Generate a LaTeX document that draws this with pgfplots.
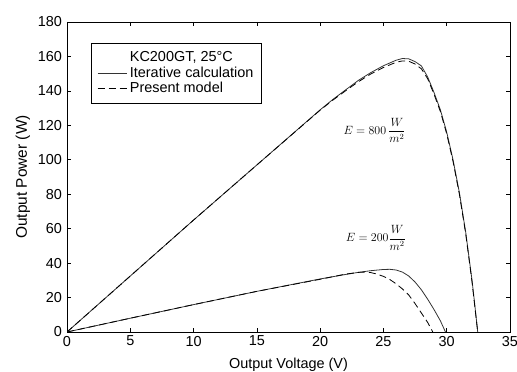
\documentclass[border=0pt]{standalone}
\usepackage{pgfplots}
\pgfplotsset{compat=1.18}
\usepackage{fontspec}
\setmainfont{Liberation Sans}
\begin{document}
\fontsize{14.5}{16.5}\selectfont
\begin{tikzpicture}
\useasboundingbox (-67bp,-40bp) rectangle (450bp,332bp);
\begin{axis}[
  scale only axis,
  width=443bp, height=310bp,
  xmin=0, xmax=35, ymin=0, ymax=180,
  xtick={0,5,...,35}, ytick={0,20,...,180},
  tick align=inside, tick pos=both,
  major tick length=4bp,
  /pgf/number format/assume math mode=true,
  tick label style={font=\fontsize{14.5}{16}\selectfont},
  xticklabel style={yshift=1bp},
  xlabel={Output Voltage (V)},
  ylabel={Output Power (W)},
  xlabel style={font=\fontsize{14.5}{16}\selectfont, yshift=-2bp},
  ylabel style={font=\fontsize{15.5}{17}\selectfont, yshift=-2bp},
  axis line style={line width=0.8pt},
  every tick/.style={line width=0.7pt, black},
  legend style={at={(0.054,0.932)}, anchor=north west, draw=black, line width=0.8pt,
    font=\fontsize{14.5}{16}\selectfont, row sep=-1bp, inner xsep=6bp, inner ysep=6bp},
  legend cell align=left,
  legend image code/.code={\draw[#1] (0cm,0cm) -- (1.05cm,0cm);},
]
\addlegendimage{white}
\addlegendentry{KC200GT, 25\textdegree C}
% 800 W/m2 iterative
\addplot[black!80, line width=0.8pt] coordinates {
(0,0) (5,32.5) (10,65) (15,97) (20,129) (21,135) (22,140.5) (23,146) (24,150.6) (25,154.6) (26,157.8) (26.5,158.8) (27,158.6) (27.5,157) (28,154.5) (28.5,148) (29,139) (29.5,129) (30,116) (30.5,100) (31,81) (31.5,58) (32,30) (32.2,17) (32.45,0)};
\addlegendentry{Iterative calculation}
% 800 dashed
\addplot[black, line width=0.8pt, dash pattern=on 7bp off 4bp] coordinates {
(0,0) (5,32.5) (10,65) (15,97) (20,128.8) (21,134.6) (22,140) (23,145.2) (24,149.8) (25,153.6) (26,156.6) (26.5,157.4) (27,157.2) (27.5,155.6) (28,152.8) (28.5,147) (29,138) (29.5,128) (30,115) (30.5,99) (31,80) (31.5,57) (32,29) (32.2,16) (32.45,0)};
\addlegendentry{Present model}
% 200 solid
\addplot[black!80, line width=0.8pt] coordinates {
(0,0) (5,8) (10,15.9) (15,23.6) (20,30.8) (22,33.4) (23,34.6) (24,35.6) (25,36.3) (25.5,36.4) (26,36) (26.5,34.8) (27,32.5) (27.5,29) (28,24.5) (28.5,19) (29,13) (29.5,6.5) (29.9,0)};
% 200 dashed
\addplot[black, line width=0.8pt, dash pattern=on 7bp off 4bp] coordinates {
(0,0) (5,8) (10,15.9) (15,23.6) (20,30.6) (22,33.6) (23,34.6) (23.5,34.8) (24,34.5) (24.5,33.6) (25,32.3) (25.5,30.5) (26,28) (26.5,25) (27,21.5) (27.5,16.5) (28,11) (28.5,5.5) (28.9,0)};
\node[font=\fontsize{12}{14}\selectfont] at (axis cs:24.3,117) {$\displaystyle E = 800\,\frac{W}{m^2}$};
\node[font=\fontsize{12}{14}\selectfont] at (axis cs:24.4,54.6) {$\displaystyle E = 200\frac{W}{m^2}$};
\end{axis}
\end{tikzpicture}
\end{document}
